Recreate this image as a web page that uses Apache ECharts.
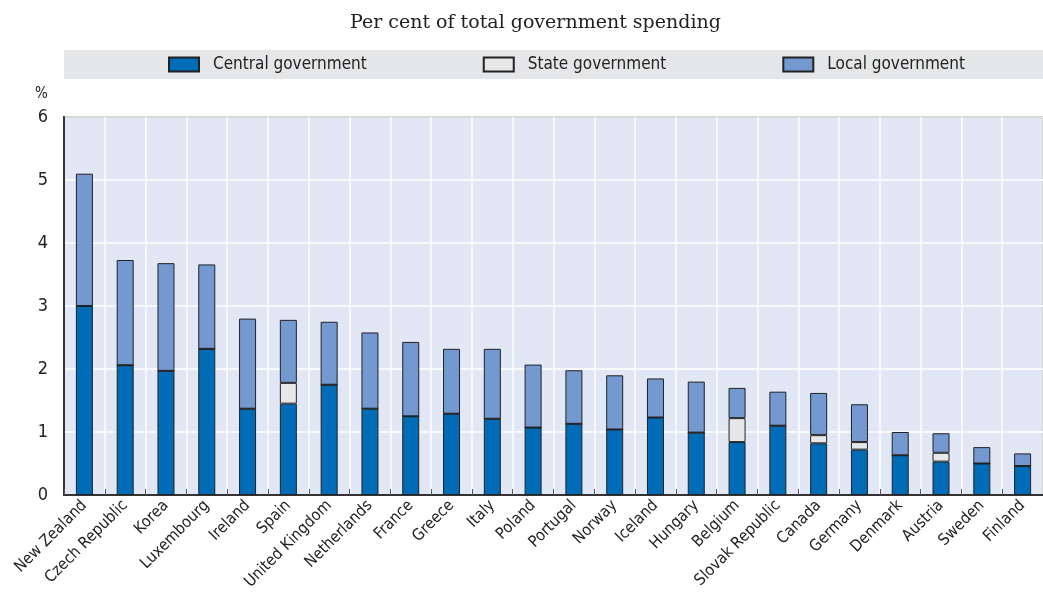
<!DOCTYPE html>
<html>
<head>
<meta charset="utf-8">
<script src="https://cdn.jsdelivr.net/npm/echarts@6/dist/echarts.min.js"></script>
<style>
  html, body { margin: 0; padding: 0; background: #fff; }
  #chart { width: 1043px; height: 601px; }
</style>
</head>
<body>
<div id="chart"></div>
<script>
// Share of total government spending, by level of government (%)
const countries = ['New Zealand', 'Czech Republic', 'Korea', 'Luxembourg', 'Ireland', 'Spain',
    'United Kingdom', 'Netherlands', 'France', 'Greece', 'Italy', 'Poland', 'Portugal', 'Norway',
    'Iceland', 'Hungary', 'Belgium', 'Slovak Republic', 'Canada', 'Germany', 'Denmark', 'Austria',
    'Sweden', 'Finland'];

const centralGov = [3.00, 2.06, 1.97, 2.32, 1.37, 1.45, 1.75, 1.37, 1.25, 1.29, 1.21, 1.07,
    1.13, 1.04, 1.23, 0.99, 0.84, 1.10, 0.82, 0.72, 0.63, 0.53, 0.50, 0.46];
const stateGov = [0, 0, 0, 0, 0, 0.33, 0, 0, 0, 0, 0, 0,
    0, 0, 0, 0, 0.38, 0, 0.13, 0.12, 0, 0.14, 0, 0];
const localGov = [2.10, 1.67, 1.71, 1.34, 1.43, 1.00, 1.00, 1.21, 1.18, 1.03, 1.11, 1.00,
    0.85, 0.86, 0.62, 0.81, 0.48, 0.54, 0.67, 0.60, 0.37, 0.31, 0.26, 0.20];

const yTicks = [0, 1, 2, 3, 4, 5, 6];

const NARROW = "'DejaVu Sans Condensed', 'Liberation Sans Narrow', sans-serif";

const chart = echarts.init(document.getElementById('chart'));

function barSeries(name, data, color) {
    return {
        name: name,
        type: 'bar',
        stack: 'total',
        data: data,
        barWidth: 17,
        itemStyle: { color: color, borderColor: '#222', borderWidth: 1 },
        emphasis: { disabled: true }
    };
}

chart.setOption({
    animation: false,
    title: {
        text: 'Per cent of total government spending',
        left: 345,
        top: 9,
        textStyle: { fontFamily: "'DejaVu Serif', serif", fontSize: 19, fontWeight: 'normal', color: '#222' }
    },
    graphic: [
        { type: 'rect', left: 64, top: 50, shape: { width: 979, height: 29 }, style: { fill: '#E5E6E8' }, z: -1 },
        { type: 'text', left: 35, top: 87, style: { text: '%', font: "15px " + NARROW, fill: '#222' } }
    ],
    legend: {
        left: 168,
        top: 56,
        padding: 0,
        itemWidth: 30,
        itemHeight: 14,
        itemGap: 116,
        icon: 'rect',
        textStyle: { fontFamily: NARROW, fontSize: 17, color: '#222', padding: [0, 0, 0, 9] },
        data: ['Central government', 'State government', 'Local government']
    },
    grid: {
        left: 64,
        right: -1,
        top: 117,
        bottom: 106,
        show: true,
        backgroundColor: '#E1E7F4',
        borderColor: '#333',
        borderWidth: 1.5
    },
    xAxis: {
        type: 'category',
        data: countries,
        axisLine: { show: true, lineStyle: { color: '#333', width: 2 } },
        axisTick: { show: true, inside: true, length: 6, lineStyle: { color: '#555' } },
        splitLine: { show: true, lineStyle: { color: '#fff', width: 1.5 } },
        axisLabel: { rotate: 45, margin: 8, fontFamily: NARROW, fontSize: 16, color: '#222', interval: 0 }
    },
    yAxis: {
        type: 'value',
        min: yTicks[0],
        max: yTicks[yTicks.length - 1],
        interval: 1,
        axisLine: { show: true, lineStyle: { color: '#333', width: 2 } },
        axisTick: { show: false },
        splitLine: { show: true, lineStyle: { color: '#fff', width: 1.5 } },
        axisLabel: { margin: 16, fontFamily: NARROW, fontSize: 18, color: '#222' }
    },
    series: [
        barSeries('Central government', centralGov, '#006BB6'),
        barSeries('State government', stateGov, '#E6E7E9'),
        barSeries('Local government', localGov, '#7399D0')
    ]
});
</script>
</body>
</html>
